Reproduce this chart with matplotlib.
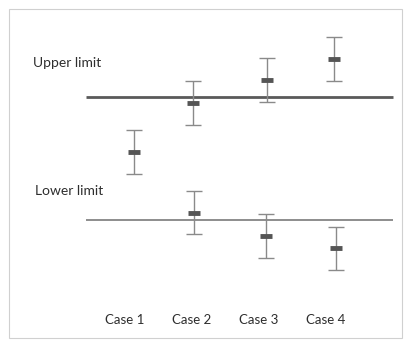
import numpy as np
import matplotlib.pyplot as plt
from matplotlib.patches import Rectangle

# case labels along the bottom
cases = ["Case 1", "Case 2", "Case 3", "Case 4"]
case_pos = [1, 2, 3, 4]

# upper group: positions, mean values, error half-widths
upper_x = [1.13, 2.01, 3.12, 4.12]
upper_y = [5.5, 9.5, 11.4, 13.1]
upper_err = [1.8, 1.8, 1.8, 1.8]

# lower group (no case 1)
lower_x = [2.03, 3.10, 4.15]
lower_y = [0.6, -1.3, -2.3]
lower_err = [1.75, 1.75, 1.75]

# limit lines
upper_limit = 10.0
lower_limit = 0.0

plt.rcParams['font.family'] = ['Lato', 'DejaVu Sans']

fig = plt.figure(figsize=(4.04, 3.41), dpi=100)
ax = fig.add_axes([0, 0, 1, 1])
ax.set_xlim(-0.866, 5.164)
ax.set_ylim(-9.84, 17.89)
ax.axis("off")

# outer frame
fig.patches.append(Rectangle((9 / 404, 3 / 341), 393 / 404, 329 / 341,
                             transform=fig.transFigure, fill=False,
                             edgecolor="#d0d0d0", linewidth=0.8))

ax.hlines(upper_limit, 0.418, 5.0, color="#5a5a5a", linewidth=2.0)
ax.hlines(lower_limit, 0.418, 5.0, color="#7a7a7a", linewidth=1.2)

for xs, ys, es in [(upper_x, upper_y, upper_err), (lower_x, lower_y, lower_err)]:
    ax.errorbar(xs, ys, yerr=es, fmt="none", ecolor="#8a8a8a",
                elinewidth=1.0, capsize=6, capthick=1.0)
    ax.plot(xs, ys, linestyle="none", marker="_", markersize=8,
            markeredgewidth=3.5, color="#555555")

ax.text(-0.373, 12.76, "Upper limit", fontsize=10, color="#2e2e2e",
        ha="left", va="center")
ax.text(-0.343, 2.36, "Lower limit", fontsize=10, color="#2e2e2e",
        ha="left", va="center")

for c, lab in zip(case_pos, cases):
    ax.text(c, -8.13, lab, fontsize=9.5, color="#2e2e2e", ha="center", va="center")

fig.savefig("out.png", dpi=100)
